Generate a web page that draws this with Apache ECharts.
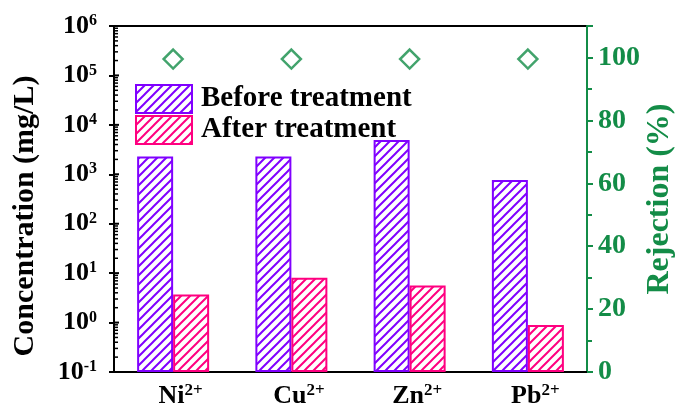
<!DOCTYPE html>
<html>
<head>
<meta charset="utf-8">
<script src="https://cdn.jsdelivr.net/npm/echarts@6/dist/echarts.min.js"></script>
<style>
  html, body { margin: 0; padding: 0; background: #fff; }
  #chart { width: 675px; height: 410px; }
</style>
</head>
<body>
<div id="chart"></div>
<script>
// Metal ions and their concentrations (mg/L) before/after treatment, plus rejection (%)
const ions = ['Ni', 'Cu', 'Zn', 'Pb'];
const ionCharge = ['2+', '2+', '2+', '2+'];
const beforeTreatment = [2300, 2300, 4950, 770];
const afterTreatment = [3.7, 8.1, 5.6, 0.89];
const rejection = [99.5, 99.5, 99.5, 99.5];

const FONT = "'Liberation Serif', 'Times New Roman', serif";
const PURPLE = '#8000ff';
const PINK = '#ff0080';
const GREEN = '#138c47';

// Diagonal hatch fill ("///") used for the bars and legend swatches
function hatch(color) {
  const s = 9;
  const c = document.createElement('canvas');
  c.width = s; c.height = s;
  const ctx = c.getContext('2d');
  ctx.fillStyle = '#fff';
  ctx.fillRect(0, 0, s, s);
  ctx.strokeStyle = color;
  ctx.lineWidth = 2;
  ctx.beginPath();
  [-s, 0, s].forEach(function (o) {
    ctx.moveTo(o - 1, s + 1);
    ctx.lineTo(o + s + 1, -1);
  });
  ctx.stroke();
  return { image: c, repeat: 'repeat' };
}

// Log-axis tick marks pointing into the plot (decades long, 2..9 short)
const logTicks = [];
for (let d = -1; d <= 6; d++) {
  logTicks.push([0, Math.pow(10, d), 5]);
  if (d < 6) {
    for (let k = 2; k <= 9; k++) logTicks.push([0, k * Math.pow(10, d), 4]);
  }
}

const chart = echarts.init(document.getElementById('chart'), null, { renderer: 'canvas' });

const option = {
  backgroundColor: '#fff',
  animation: false,
  grid: {
    left: 114, right: 88, top: 26, bottom: 38,
    show: true, borderColor: '#000', borderWidth: 2,
    containLabel: false, outerBoundsMode: 'none'
  },
  legend: {
    data: ['Before treatment', 'After treatment'],
    orient: 'vertical',
    left: 135, top: 84,
    padding: 0,
    itemWidth: 56, itemHeight: 28, itemGap: 1,
    icon: 'rect',
    textStyle: { fontFamily: FONT, fontWeight: 'bold', fontSize: 29, color: '#000', lineHeight: 29, padding: [0, 0, 0, 4] },
    itemStyle: { borderWidth: 2 }
  },
  xAxis: [
    {
      type: 'category',
      data: ions,
      axisLine: { lineStyle: { color: '#000', width: 2 } },
      axisTick: { alignWithLabel: true, length: 5, lineStyle: { color: '#000', width: 2 } },
      axisLabel: {
        margin: 10,
        padding: [0, 0, 0, 15],
        formatter: function (v, i) { return '{b|' + v + '}{s|' + ionCharge[i] + '}'; },
        rich: {
          b: { fontFamily: FONT, fontWeight: 'bold', fontSize: 26, color: '#000', lineHeight: 28 },
          s: { fontFamily: FONT, fontWeight: 'bold', fontSize: 17, color: '#000', verticalAlign: 'top', lineHeight: 17 }
        }
      },
      splitLine: { show: false }
    },
    {
      type: 'category',
      data: ions,
      position: 'bottom',
      axisLine: { show: false },
      axisTick: { length: 5, lineStyle: { color: '#000', width: 2 } },
      axisLabel: { show: false },
      splitLine: { show: false }
    }
  ],
  yAxis: [
    {
      type: 'log',
      logBase: 10,
      min: 0.1,
      max: 1e6,
      interval: 1,
      startValue: 0.1,
      name: 'Concentration (mg/L)',
      nameLocation: 'middle',
      nameGap: 74,
      nameMoveOverlap: false,
      nameTextStyle: { fontFamily: FONT, fontWeight: 'bold', fontSize: 30, color: '#000', padding: [0, 34, 0, 0] },
      axisLine: { show: true, lineStyle: { color: '#000', width: 2 } },
      axisTick: { show: true, length: 5, lineStyle: { color: '#000', width: 2 } },
      axisLabel: {
        margin: 17,
        formatter: function (v) { return '{b|10}{s|' + Math.round(Math.log10(v)) + '}'; },
        rich: {
          b: { fontFamily: FONT, fontWeight: 'bold', fontSize: 26, color: '#000', lineHeight: 26 },
          s: { fontFamily: FONT, fontWeight: 'bold', fontSize: 16, color: '#000', verticalAlign: 'top', lineHeight: 16 }
        }
      },
      splitLine: { show: false }
    },
    {
      type: 'value',
      min: 0,
      max: 110,
      interval: 20,
      name: 'Rejection (%)',
      nameLocation: 'middle',
      nameGap: 57,
      nameMoveOverlap: false,
      nameRotate: 90,
      nameTextStyle: { fontFamily: FONT, fontWeight: 'bold', fontSize: 32, color: GREEN },
      axisLine: { show: true, lineStyle: { color: GREEN, width: 2 } },
      axisTick: { show: true, length: 6, lineStyle: { color: GREEN, width: 2 } },
      minorTick: { show: true, splitNumber: 2, length: 5, lineStyle: { color: GREEN, width: 2 } },
      axisLabel: {
        margin: 11,
        showMaxLabel: false,
        fontFamily: FONT, fontWeight: 'bold', fontSize: 28, color: GREEN
      },
      splitLine: { show: false },
      minorSplitLine: { show: false }
    }
  ],
  series: [
    {
      name: 'Before treatment',
      type: 'bar',
      xAxisIndex: 0, yAxisIndex: 0,
      barWidth: 36, barGap: '0%',
      data: beforeTreatment,
      itemStyle: { color: hatch(PURPLE), borderColor: PURPLE, borderWidth: 2 }
    },
    {
      name: 'After treatment',
      type: 'bar',
      xAxisIndex: 0, yAxisIndex: 0,
      barWidth: 36, barGap: '0%',
      data: afterTreatment,
      itemStyle: { color: hatch(PINK), borderColor: PINK, borderWidth: 2 }
    },
    {
      name: 'Rejection',
      type: 'scatter',
      xAxisIndex: 0, yAxisIndex: 1,
      symbol: 'diamond',
      symbolSize: 19,
      data: rejection,
      itemStyle: { color: '#fff', borderColor: GREEN, borderWidth: 2.5 },
      z: 5
    },
    {
      name: 'logTicks',
      type: 'custom',
      xAxisIndex: 0, yAxisIndex: 0,
      silent: true,
      clip: false,
      z: 6,
      data: logTicks,
      renderItem: function (params, api) {
        const p = api.coord([0, api.value(1)]);
        const x = params.coordSys.x;
        return {
          type: 'line',
          shape: { x1: x, y1: p[1], x2: x + api.value(2), y2: p[1] },
          style: { stroke: '#000', lineWidth: api.value(2) === 5 ? 2 : 1.5 }
        };
      }
    }
  ]
};

chart.setOption(option);
</script>
</body>
</html>
